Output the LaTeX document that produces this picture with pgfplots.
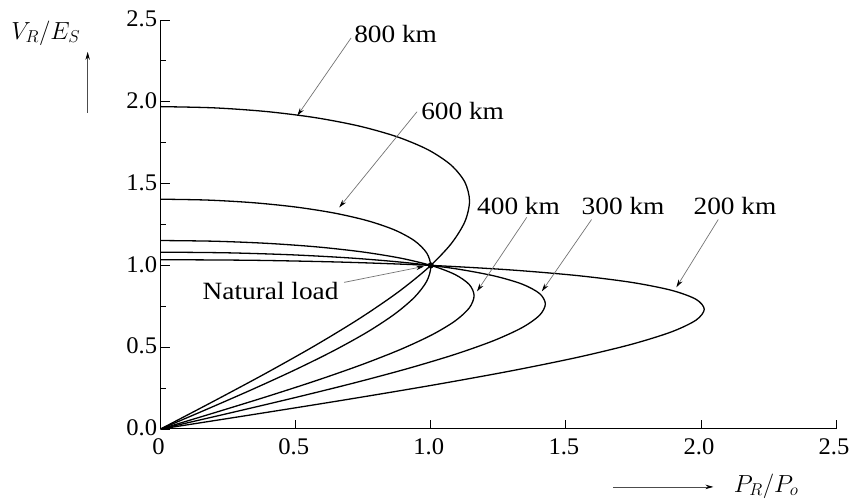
\documentclass[border=0pt]{standalone}
\usepackage{pgfplots}
\pgfplotsset{compat=1.18}
\usepackage{fontspec}
\setmainfont{Liberation Serif}[FakeStretch=1.1]
\newfontfamily\tickfont{Liberation Serif}[FakeStretch=1.03]
\usetikzlibrary{arrows.meta}
\newcommand{\tl}[1]{\mbox{\tickfont\fontsize{24}{28}\selectfont #1}}
\begin{document}
\begin{tikzpicture}[font=\fontsize{25}{30}\selectfont,
  curve/.style={black, line width=1.3bp, smooth, mark=none}]
\path[use as bounding box] (-161bp,-74bp) rectangle (691bp,430bp);
\begin{axis}[
  scale only axis, width=677bp, height=410bp,
  xmin=0, xmax=2.5, ymin=0, ymax=2.5,
  axis x line=bottom, axis y line=left,
  axis line style={-, line width=1bp},
  xtick={0,0.5,1,1.5,2,2.5},
  xticklabels={\tl{0},\tl{0.5},\tl{1.0},\tl{1.5},\tl{2.0},\tl{2.5}},
  ytick={0,0.5,1,1.5,2,2.5},
  yticklabels={\tl{0.0},\tl{0.5},\tl{1.0},\tl{1.5},\tl{2.0},\tl{2.5}},
  minor ytick={0.25,0.75,1.25,1.75,2.25},
  tick align=inside,
  major tick length=9bp, minor tick length=5bp,
  tick style={line width=0.9bp, black},
  xticklabel style={yshift=-6bp, xshift=-2bp},
  yticklabel style={yshift=1bp},
  clip=false,
]
% 800 km
\addplot[curve] coordinates {(0,1.9702) (0.1986,1.9627) (0.3911,1.9403) (0.5717,1.9031) (0.7350,1.8514) (0.8759,1.7856) (0.9902,1.7063) (1.0744,1.6139) (1.1260,1.5093) (1.1434,1.3932) (1.1260,1.2664) (1.0744,1.1301) (0.9902,0.9851) (0.8759,0.8327) (0.7350,0.6739) (0.5717,0.5099) (0.3911,0.3421) (0.1986,0.1717) (0,0)};
% 600 km
\addplot[curve] coordinates {(0,1.4044) (0.1737,1.3991) (0.3421,1.3831) (0.5001,1.3566) (0.6428,1.3197) (0.7661,1.2728) (0.8661,1.2163) (0.9398,1.1504) (0.9849,1.0758) (1.0001,0.9931) (0.9849,0.9027) (0.9398,0.8055) (0.8661,0.7022) (0.7661,0.5935) (0.6428,0.4803) (0.5001,0.3635) (0.3421,0.2439) (0.1737,0.1224) (0,0)};
% 400 km
\addplot[curve] coordinates {(0,1.1519) (0.2015,1.1475) (0.3969,1.1344) (0.5802,1.1127) (0.7458,1.0824) (0.8888,1.0440) (1.0049,0.9976) (1.0903,0.9436) (1.1427,0.8824) (1.1603,0.8145) (1.1427,0.7404) (1.0903,0.6607) (1.0049,0.5760) (0.8888,0.4868) (0.7458,0.3940) (0.5802,0.2981) (0.3969,0.2000) (0.2015,0.1004) (0,0)};
% 300 km
\addplot[curve] coordinates {(0,1.0808) (0.2473,1.0767) (0.4871,1.0644) (0.7121,1.0440) (0.9154,1.0156) (1.0910,0.9796) (1.2334,0.9360) (1.3383,0.8854) (1.4025,0.8280) (1.4241,0.7643) (1.4025,0.6947) (1.3383,0.6199) (1.2334,0.5404) (1.0910,0.4568) (0.9154,0.3697) (0.7121,0.2797) (0.4871,0.1877) (0.2473,0.0942) (0,0)};
% 200 km
\addplot[curve] coordinates {(0,1.0348) (0.3494,1.0309) (0.6882,1.0191) (1.0061,0.9995) (1.2934,0.9724) (1.5414,0.9378) (1.7426,0.8962) (1.8908,0.8477) (1.9816,0.7927) (2.0122,0.7317) (1.9816,0.6652) (1.8908,0.5935) (1.7426,0.5174) (1.5414,0.4373) (1.2934,0.3539) (1.0061,0.2678) (0.6882,0.1797) (0.3494,0.0902) (0,0)};
% natural load point
\addplot[only marks, mark=*, mark size=2.8bp, black] coordinates {(1,1)};

% annotations
\tikzset{ann/.style={draw=black!55, line width=0.7bp, -{Stealth[length=8bp,width=4.5bp,black]}}}
\node[anchor=west, inner sep=0pt] at (axis cs:0.716,2.415) {800 km};
\draw[ann] (axis cs:0.705,2.390) -- (axis cs:0.506,1.915);
\node[anchor=west, inner sep=0pt] at (axis cs:0.964,1.945) {600 km};
\draw[ann] (axis cs:0.949,1.939) -- (axis cs:0.661,1.354);
\node[anchor=west, inner sep=0pt] at (axis cs:1.171,1.360) {400 km};
\draw[ann] (axis cs:1.355,1.293) -- (axis cs:1.171,0.841);
\node[anchor=west, inner sep=0pt] at (axis cs:1.558,1.360) {300 km};
\draw[ann] (axis cs:1.595,1.280) -- (axis cs:1.411,0.841);
\node[anchor=west, inner sep=0pt] at (axis cs:1.972,1.360) {200 km};
\draw[ann] (axis cs:2.064,1.280) -- (axis cs:1.909,0.866);
\node[anchor=west, inner sep=0pt] at (axis cs:0.155,0.841) {Natural load};
\draw[ann] (axis cs:0.679,0.896) -- (axis cs:0.975,0.994);

% axis labels
\node[font=\fontsize{27}{30}\selectfont] at (axis cs:-0.425,2.421) {$V_R/E_S$};
\draw[line width=0.8bp, black!70, -{Stealth[length=8bp,width=4.5bp,black]}] (axis cs:-0.270,1.933) -- (axis cs:-0.270,2.305);
\node[font=\fontsize{27}{30}\selectfont] at (axis cs:2.241,-0.348) {$P_R/P_o$};
\draw[line width=0.8bp, black!70, -{Stealth[length=8bp,width=4.5bp,black]}] (axis cs:1.676,-0.354) -- (axis cs:2.046,-0.354);
\end{axis}
\end{tikzpicture}
\end{document}
